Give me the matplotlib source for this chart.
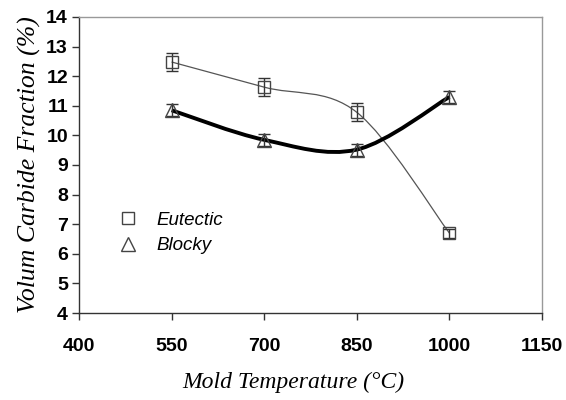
import numpy as np
import matplotlib.pyplot as plt
from matplotlib.path import Path
import matplotlib.patches as patches

temps = [550, 700, 850, 1000]
eutectic = [12.48, 11.63, 10.78, 6.70]
eutectic_err = [0.3, 0.3, 0.3, 0.15]
blocky = [10.85, 9.85, 9.52, 11.30]
blocky_err = [0.2, 0.2, 0.2, 0.2]


def smooth_path(xs, ys):
    # Excel-like smoothed line: Catmull-Rom segments as cubic Bezier curves
    pts = np.column_stack([xs, ys]).astype(float)
    n = len(pts)
    verts = [pts[0]]
    codes = [Path.MOVETO]
    for i in range(n - 1):
        p0 = pts[i - 1] if i > 0 else pts[i]
        p1 = pts[i]
        p2 = pts[i + 1]
        p3 = pts[i + 2] if i + 2 < n else pts[i + 1]
        c1 = p1 + (p2 - p0) / 6.0
        c2 = p2 - (p3 - p1) / 6.0
        verts += [c1, c2, p2]
        codes += [Path.CURVE4] * 3
    return Path(verts, codes)


fig = plt.figure(figsize=(5.66, 4.0), dpi=100)
ax = fig.add_axes([79 / 566, 1 - 313 / 400, (542 - 79) / 566, (313 - 17) / 400])

ax.add_patch(patches.PathPatch(smooth_path(temps, eutectic), fill=False,
                               edgecolor='#555555', lw=0.9, zorder=2))
ax.add_patch(patches.PathPatch(smooth_path(temps, blocky), fill=False,
                               edgecolor='black', lw=2.8, zorder=2))

ax.errorbar(temps, eutectic, yerr=eutectic_err, fmt='none', ecolor='#333333',
            elinewidth=1.0, capsize=4, capthick=1.0, zorder=3)
ax.errorbar(temps, blocky, yerr=blocky_err, fmt='none', ecolor='#333333',
            elinewidth=1.0, capsize=4, capthick=1.0, zorder=3)
ax.plot(temps, eutectic, linestyle='none', marker='s', ms=9, mfc='none',
        mec='#444444', mew=1.0, zorder=4, label='Eutectic')
ax.plot(temps, blocky, linestyle='none', marker='^', ms=10, mfc='none',
        mec='#444444', mew=1.0, zorder=4, label='Blocky')

ax.set_xlim(400, 1150)
ax.set_ylim(4, 14)
ax.set_xticks(np.arange(400, 1151, 150))
ax.set_yticks(np.arange(4, 15, 1))
ax.tick_params(direction='out', length=5, width=1, colors='#333333',
               labelcolor='black', pad=3)
for lab in ax.get_xticklabels() + ax.get_yticklabels():
    lab.set_fontfamily('Liberation Sans')
    lab.set_fontweight('bold')
    lab.set_fontsize(14)
ax.tick_params(axis='x', pad=13)

for side in ['top', 'right']:
    ax.spines[side].set_color('#999999')
    ax.spines[side].set_linewidth(1.0)
for side in ['left', 'bottom']:
    ax.spines[side].set_color('#333333')
    ax.spines[side].set_linewidth(1.0)

ax.set_xlabel('Mold Temperature (°C)', fontfamily='Liberation Serif',
              fontstyle='italic', fontsize=17)
ax.xaxis.set_label_coords(0.463, -0.2, transform=ax.transAxes)
ax.set_ylabel('Volum Carbide Fraction (%)', fontfamily='Liberation Serif',
              fontstyle='italic', fontsize=18.5, labelpad=4)

leg = ax.legend(loc='upper left', bbox_to_anchor=(0.05, 0.40), frameon=False,
                prop={'family': 'Liberation Sans', 'style': 'italic', 'size': 13.5},
                handlelength=1.0, handletextpad=1.0, labelspacing=0.45)

fig.savefig('out.png', dpi=100)
